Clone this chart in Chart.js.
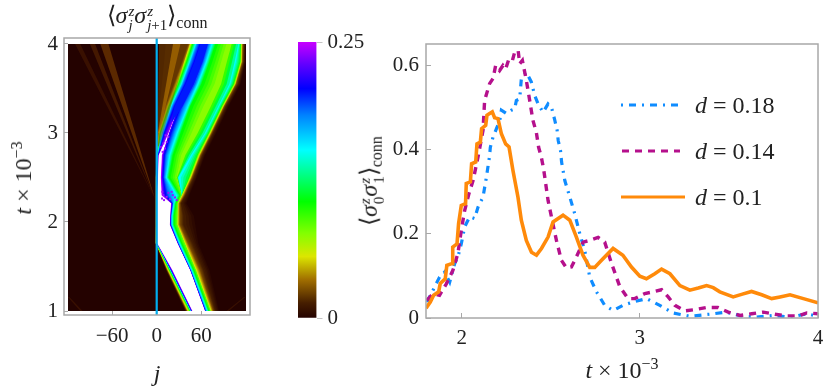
<!DOCTYPE html>
<html>
<head>
<meta charset="utf-8">
<script src="https://cdn.jsdelivr.net/npm/chart.js@4"></script>
<style>
html, body { margin: 0; padding: 0; background: #fff; width: 823px; height: 388px; overflow: hidden; }
canvas { position: absolute; }
#heatChart { filter: blur(0.5px); }
.txt { position: absolute; font-family: "Liberation Serif", serif; font-size: 24px; color: #222; white-space: nowrap; line-height: 1; }
.rot { transform: translate(-50%, -50%) rotate(-90deg); }
.mid { transform: translate(-50%, -50%); }
.ss { display: inline-flex; flex-direction: column; vertical-align: middle; font-size: 15px; line-height: 14px; margin-left: 1px; text-align: left; position: relative; top: 1px; }
.conn { font-size: 16px; position: relative; top: 5px; }
sup { font-size: 16px; line-height: 0; }
svg { position: absolute; }
</style>
</head>
<body>
<canvas id="heatChart" width="270" height="388" style="left:0;top:0"></canvas>
<canvas id="axisChart" width="270" height="388" style="left:0;top:0"></canvas>
<canvas id="barChart" width="90" height="388" style="left:280px;top:0"></canvas>
<canvas id="lineChart" width="463" height="388" style="left:360px;top:0"></canvas>

<div class="txt mid" style="left:157px;top:17px">⟨<i>σ</i><span class="ss"><i>z</i><i>j</i></span><i>σ</i><span class="ss"><i>z</i><span><i>j</i>+1</span></span>⟩<span class="conn">conn</span></div>
<div class="txt rot" style="left:23px;top:178px"><i>t</i> × 10<sup>−3</sup></div>
<div class="txt mid" style="left:157px;top:373px"><i>j</i></div>
<div class="txt rot" style="left:371px;top:181px">⟨<i>σ</i><span class="ss"><i>z</i><span>0</span></span><i>σ</i><span class="ss"><i>z</i><span>1</span></span>⟩<span class="conn">conn</span></div>
<div class="txt mid" style="left:622px;top:370px"><i>t</i> × 10<sup>−3</sup></div>

<svg width="70" height="110" style="left:618px;top:95px">
  <line x1="3" y1="10" x2="60" y2="10" stroke="#0f8cff" stroke-width="3" stroke-dasharray="2 6 7 6"/>
  <line x1="4" y1="56" x2="62" y2="56" stroke="#b5108c" stroke-width="3" stroke-dasharray="7 6"/>
  <line x1="3" y1="102" x2="67" y2="102" stroke="#ff8a0a" stroke-width="3"/>
</svg>
<div class="txt" style="left:695px;top:93px"><i>d</i> = 0.18</div>
<div class="txt" style="left:695px;top:139px"><i>d</i> = 0.14</div>
<div class="txt" style="left:695px;top:185px"><i>d</i> = 0.1</div>

<script>
// ---------- data ----------

// correlator curves, each with its own t samples
const tBlue = [1.805,1.83,1.876,1.904,1.933,1.961,1.979,1.998,2.017,2.045,2.073,2.092,2.12,2.139,2.157,2.161,2.176,2.214,2.223,2.251,2.279,2.298,2.307,2.326,2.335,2.363,2.391,2.41,2.429,2.457,2.485,2.504,2.523,2.536,2.542,2.555,2.561,2.579,2.607,2.635,2.663,2.691,2.719,2.757,2.803,2.85,2.906,2.962,3.037,3.112,3.187,3.281,3.393,3.483,3.579,3.655,3.749,3.843,3.937,4];
const vBlue = [.038,.058,.097,.109,.085,.129,.145,.176,.216,.24,.236,.263,.287,.334,.385,.405,.429,.469,.493,.485,.493,.496,.516,.52,.567,.583,.56,.528,.508,.488,.508,.5,.469,.445,.421,.397,.37,.326,.287,.247,.2,.16,.097,.062,.03,.018,.03,.038,.046,.03,.012,.004,.009,.014,.004,.002,.006,.002,.01,.004];

const tMagenta = [1.805,1.839,1.876,1.914,1.951,1.979,1.998,2.017,2.041,2.064,2.092,2.12,2.129,2.157,2.176,2.191,2.213,2.232,2.247,2.266,2.285,2.298,2.317,2.326,2.341,2.363,2.382,2.4,2.419,2.432,2.447,2.46,2.485,2.504,2.532,2.56,2.588,2.616,2.644,2.682,2.719,2.766,2.803,2.841,2.888,2.934,2.972,3.028,3.075,3.122,3.159,3.197,3.253,3.309,3.374,3.438,3.496,3.562,3.628,3.693,3.758,3.824,3.889,3.937,4];
const vMagenta = [.042,.058,.054,.081,.113,.153,.208,.255,.295,.326,.382,.445,.516,.556,.568,.599,.587,.599,.591,.615,.611,.631,.635,.603,.611,.564,.516,.469,.441,.405,.382,.354,.279,.24,.184,.137,.119,.121,.145,.18,.184,.191,.18,.13,.074,.046,.046,.058,.062,.067,.05,.03,.017,.02,.025,.025,.014,.006,.01,.014,.009,.005,.005,.012,.01];

const tOrange = [1.8,1.824,1.843,1.871,1.88,1.908,1.917,1.946,1.95,1.974,1.983,1.998,2.022,2.026,2.049,2.056,2.079,2.086,2.105,2.112,2.135,2.142,2.157,2.172,2.185,2.204,2.223,2.247,2.266,2.288,2.316,2.335,2.363,2.392,2.42,2.448,2.485,2.513,2.569,2.607,2.644,2.681,2.719,2.747,2.785,2.85,2.905,2.953,3,3.037,3.084,3.122,3.169,3.225,3.281,3.328,3.375,3.412,3.449,3.524,3.571,3.627,3.684,3.74,3.787,3.843,3.918,4];
const vOrange = [.023,.038,.054,.062,.082,.093,.125,.129,.168,.176,.224,.267,.271,.319,.323,.366,.37,.413,.417,.449,.457,.481,.485,.489,.475,.473,.437,.413,.406,.35,.287,.232,.184,.156,.149,.165,.192,.228,.244,.232,.192,.149,.12,.12,.137,.165,.149,.121,.099,.093,.105,.116,.105,.077,.066,.071,.077,.072,.062,.05,.056,.063,.055,.046,.05,.055,.046,.036];

const seriesNames = ['d = 0.1', 'd = 0.14', 'd = 0.18'];
const tTicksRight = [2, 3, 4];
const vTicksRight = [0, 0.2, 0.4, 0.6];

// heat map: j positions of the contour nodes, one list per time slice
const sliceT = [1, 1.46, 1.76, 1.97, 2.07, 2.21, 2.3, 2.5, 2.75, 3, 3.3, 3.55, 3.8, 4];
const cut100 = [38,40,42,44.5,46,46.5,47,47.5,48.5,65,65.7,66.5,68,70,73,73,73,73,73,76,79,84];
const cut146 = [12,13.5,15,17,18.5,19,19.5,20,21.5,45,45.5,46,47,49.5,53,53,53,53,53,58,63,71];
const cut176 = [-2.5,-2,-1.5,-.5,.3,.6,.9,1.2,1.5,28,28.7,29.3,30.5,33,38,38,38,38,38,42,48,56];
const cut197 = [-1.5,-1.2,-1,-.6,-.2,.1,.3,.5,.8,17.5,18.5,19.5,20.5,23,28,28,28,28,28,31,36,52];
const cut207 = [-1.5,-1.2,-1,-.6,-.2,.1,.3,.5,.8,18,19,19.7,20.5,23,28,28,28,28,28,31,36,50];
const cut221 = [-1.5,-1.2,-1,-.6,-.2,.1,.3,.5,.8,19,20.5,22,23,25.5,28.5,28.5,28.5,28.5,28.5,31,33,40];
const cut230 = [-1.5,-1.2,-1,-.6,-.2,.1,.3,.5,1,5.4,10,16,26,31,34,34,34,34,34,37,39,44];
const cut250 = [-1.5,-1.2,-1,-.6,0,.3,.8,1.3,2,5,7.5,10.3,12.6,16,27,27,29,43,45.5,47.5,50,54];
const cut275 = [-1,-.5,0,.5,1,1.5,2,2.5,3,6.3,9,12.6,17,21.6,33,36,46,54,57,59,61.5,65];
const cut300 = [.5,1.5,3,4.5,6.5,8.5,10,13,17,17,17,22.5,27,32,47,52,65,69.6,72,74,76,80];
const cut330 = [1,11.5,14.4,16.5,19,21,23.5,30,30,30,30,36,41.8,45,63,69.6,83,87,89.5,91,93.4,97];
const cut355 = [1.5,23,26,29,33,35,38,45,45,45,45,52,55,60,78,83,98,103,105.5,107,110,113];
const cut380 = [2,34,36.8,40,44,46,50,56,56,56,56,63,66.5,71,87,91,105,112,114,115.5,117.5,119.5];
const cut400 = [2,42,45,48,52,54.5,58,64,64,64,64,70,74,79,94,98,110,113,114.5,116,118.5,119.5];
const sliceCuts = [cut100,cut146,cut176,cut197,cut207,cut221,cut230,cut250,cut275,cut300,cut330,cut355,cut380,cut400];
// correlator level at each node, above 0.25 the map clips to white
const nodeLevels = [0,.02,.0557,.1054,.1521,.1837,.2078,.2304,.26,.26,.215,.1837,.1521,.1054,.075,.075,.1521,.1054,.0557,.025,.012,0];
const stepsPerBand = 4;

// solid blue ridge in the upper part of the map
const ridgeT = [3.12, 3.3, 3.55, 3.8, 4];
const ridgeLeft = [20, 24, 39, 51, 59];
const ridgeRight = [20, 35, 50, 62, 69];

// faint rays: j at the start and at the end of each ray
const rayT = [2.25, 4];
const rayLeftA = [-2, -76]; const rayRightA = [-2, -65];
const rayLeftB = [-2, -90]; const rayRightB = [-2, -83];
const rayLeftC = [-2, -110]; const rayRightC = [-2, -103];
const streakT = [3, 4];
const streakLeft = [1.5, 22]; const streakRight = [3.5, 32];
const hazeT = [2.85, 4];
const hazeLeft = [1, 3]; const hazeRight = [3, 44];
const cornerT = [1, 1.16];
const cornerLeftA = [-103, -120]; const cornerLeftB = [-100, -118];
const cornerRightA = [94, 118]; const cornerRightB = [97, 120];
const imageEdges = [-119.5, 120.3];
const imageT = [1, 4];

// purple specks along the ragged edge of the white region
const speckJ = [7.2,9.9,13.5,18,21.6,24.7,27,15.7,20.2,9,7.6,8,11.2,5.4,13.5,9,15.7,12];
const speckT = [2.264,2.246,2.283,2.257,2.302,2.276,2.246,2.328,2.339,2.302,2.339,2.788,2.826,2.844,2.9,2.882,2.956,2.975];

const jTicks = [-60, 0, 60];
const tTicksLeft = [1, 2, 3, 4];
const zeroLineJ = 0;

// colour bar
const barTicks = [0, 0.25];
const barStopValues = [0, .0136, .0346, .0557, .0768, .1054, .1521, .1837, .2078, .2304, .25];
const barStopColors = ['#240200','#461e00','#a06e00','#dce600','#82ff00','#00ff00','#00ffff','#0082ff','#0000ff','#6400ff','#c800ff'];

// ---------- shared stuff ----------
const frameGrey = '#a8a8a8';
const tickFont = { family: '"Liberation Serif", serif', size: 21 };
const minus = v => String(v).replace('-', '−');

const framePlugin = {
    id: 'frame',
    afterDraw(chart) {
        const a = chart.chartArea;
        const c = chart.ctx;
        c.save();
        c.strokeStyle = frameGrey;
        c.lineWidth = 1.5;
        c.strokeRect(a.left, a.top, a.right - a.left, a.bottom - a.top);
        c.restore();
    }
};

// stop the labels from eating into the plot area, the padding options place it
const noMargins = s => { s.paddingLeft = 0; s.paddingRight = 0; s.paddingTop = 0; s.paddingBottom = 0; };

const zip = (xs, ys) => xs.map((x, i) => ({ x: x, y: ys[i] }));
const fillEdge = (pts, color, target) => ({
    // top slice first, so pixel y grows along the edge
    data: pts.slice().sort((a, b) => b.y - a.y),
    borderWidth: 0, pointRadius: 0, tension: 0,
    fill: color ? target : false, backgroundColor: color || 'transparent'
});

// the map colour for a correlator level, same stops as the colour bar
function levelColor(level) {
    if (level > 0.25) return '#ffffff';
    let i = 0;
    while (i < barStopValues.length - 2 && level > barStopValues[i + 1]) i++;
    const f = (level - barStopValues[i]) / (barStopValues[i + 1] - barStopValues[i]);
    const rgb = [1, 3, 5].map(p => {
        const a = parseInt(barStopColors[i].substr(p, 2), 16);
        const b = parseInt(barStopColors[i + 1].substr(p, 2), 16);
        return Math.round(a + (b - a) * f);
    });
    return `rgb(${rgb.join(',')})`;
}

// ---------- heat map ----------
const heatSets = [
    {
        data: zip(speckJ, speckT), showLine: false, fill: false,
        pointStyle: 'rect', pointRadius: 1.4, borderWidth: 0, backgroundColor: '#9a10ff'
    },
    fillEdge(zip(ridgeLeft, ridgeT), '#0018ff', '+1'),
    fillEdge(zip(ridgeRight, ridgeT)),
    fillEdge(zip(streakLeft, streakT), 'rgba(205,135,0,0.5)', '+1'),
    fillEdge(zip(streakRight, streakT)),
    fillEdge(zip(hazeLeft, hazeT), 'rgba(125,75,0,0.5)', '+1'),
    fillEdge(zip(hazeRight, hazeT)),
    fillEdge(zip(rayLeftA, rayT), 'rgba(170,95,0,0.42)', '+1'),
    fillEdge(zip(rayRightA, rayT)),
    fillEdge(zip(rayLeftB, rayT), 'rgba(170,95,0,0.24)', '+1'),
    fillEdge(zip(rayRightB, rayT)),
    fillEdge(zip(rayLeftC, rayT), 'rgba(170,95,0,0.16)', '+1'),
    fillEdge(zip(rayRightC, rayT)),
    fillEdge(zip(cornerLeftA, cornerT), 'rgba(170,95,0,0.16)', '+1'),
    fillEdge(zip(cornerLeftB, cornerT)),
    fillEdge(zip(cornerRightA, cornerT), 'rgba(170,95,0,0.16)', '+1'),
    fillEdge(zip(cornerRightB, cornerT))
];

// every step fills from its edge out to the image's right edge, right-hand steps
// are painted later (lower index), so no seams show between neighbours
const lastNode = nodeLevels.length - 1;
const farEdgeIndex = heatSets.length;
heatSets.push(fillEdge(sliceT.map(t => ({ x: imageEdges[1], y: t }))));
heatSets.push(fillEdge(sliceT.map((t, r) => ({ x: sliceCuts[r][lastNode], y: t })), levelColor(0), farEdgeIndex));
for (let c = lastNode - 1; c >= 0; c--) {
    for (let k = stepsPerBand - 1; k >= 0; k--) {
        const f = k / stepsPerBand;
        const level = nodeLevels[c] + (nodeLevels[c + 1] - nodeLevels[c]) * f;
        const pts = sliceT.map((t, r) => ({ x: sliceCuts[r][c] + (sliceCuts[r][c + 1] - sliceCuts[r][c]) * f, y: t }));
        heatSets.push(fillEdge(pts, levelColor(level), farEdgeIndex));
    }
}
heatSets.push(fillEdge(imageT.map(t => ({ x: imageEdges[0], y: t })), levelColor(0), '+1'));
heatSets.push(fillEdge(imageT.map(t => ({ x: imageEdges[1], y: t }))));

// ranges chosen so the image's borders fall on whole pixels
const jMin = -124.9, jMax = 125.7, tMin = 1 - 4 / 89, tMax = 4 + 6 / 89;

new Chart(document.getElementById('heatChart'), {
    type: 'line',
    data: { datasets: heatSets },
    options: {
        responsive: false,
        animation: false,
        indexAxis: 'y',
        layout: { padding: { left: 64, top: 38, right: 20, bottom: 73 } },
        plugins: { legend: { display: false }, tooltip: { enabled: false } },
        scales: {
            x: { type: 'linear', min: jMin, max: jMax, display: false },
            y: { type: 'linear', min: tMin, max: tMax, display: false }
        }
    }
});

// axes and the j = 0 line go on a clear chart above the softened map
new Chart(document.getElementById('axisChart'), {
    type: 'line',
    data: {
        datasets: [{
            data: [{ x: zeroLineJ, y: tMin }, { x: zeroLineJ, y: tMax }],
            borderColor: '#00aeef', borderWidth: 2.2, pointRadius: 0
        }]
    },
    options: {
        responsive: false,
        animation: false,
        indexAxis: 'y',
        layout: { padding: { top: 38, right: 20 } },
        plugins: { legend: { display: false }, tooltip: { enabled: false } },
        scales: {
            x: {
                type: 'linear', min: jMin, max: jMax,
                afterBuildTicks: s => { s.ticks = jTicks.map(v => ({ value: v })); },
                afterFit: s => { s.height = 73; noMargins(s); },
                grid: { drawOnChartArea: false, tickLength: -4, color: frameGrey },
                border: { display: false },
                ticks: { font: tickFont, color: '#222', padding: 13, maxRotation: 0, callback: minus }
            },
            y: {
                type: 'linear', min: tMin, max: tMax,
                afterBuildTicks: s => { s.ticks = tTicksLeft.map(v => ({ value: v })); },
                afterFit: s => { s.width = 64; noMargins(s); },
                grid: { drawOnChartArea: false, tickLength: -4, color: frameGrey },
                border: { display: false },
                ticks: { font: tickFont, color: '#222', padding: 10 }
            }
        }
    },
    plugins: [framePlugin]
});

// ---------- colour bar ----------
new Chart(document.getElementById('barChart'), {
    type: 'bar',
    data: {
        labels: ['conn'],
        datasets: [{
            data: [barTicks],
            barPercentage: 1,
            categoryPercentage: 1,
            backgroundColor(ctx) {
                const a = ctx.chart.chartArea;
                if (!a) return '#000';
                const g = ctx.chart.ctx.createLinearGradient(0, a.bottom, 0, a.top);
                barStopValues.forEach((v, i) => g.addColorStop(v / 0.25, barStopColors[i]));
                return g;
            }
        }]
    },
    options: {
        responsive: false,
        animation: false,
        layout: { padding: { left: 18, top: 42, bottom: 70 } },
        plugins: { legend: { display: false }, tooltip: { enabled: false } },
        scales: {
            x: { display: false },
            y: {
                position: 'right', min: 0, max: 0.25,
                afterBuildTicks: s => { s.ticks = barTicks.map(v => ({ value: v })); },
                afterFit: s => { s.width = 53.5; noMargins(s); },
                grid: { drawOnChartArea: false, tickLength: 6, color: '#c4c4c4' },
                border: { display: false },
                ticks: { font: tickFont, color: '#222', padding: 5, callback: v => String(v) }
            }
        }
    }
});

// ---------- correlator curves ----------
new Chart(document.getElementById('lineChart'), {
    type: 'line',
    data: {
        datasets: [
            { label: seriesNames[0], data: zip(tOrange, vOrange), borderColor: '#ff8a0a', borderWidth: 3.6, pointRadius: 0, tension: 0 },
            { label: seriesNames[1], data: zip(tMagenta, vMagenta), borderColor: '#b5108c', borderWidth: 3.4, pointRadius: 0, tension: 0, borderDash: [7, 6] },
            { label: seriesNames[2], data: zip(tBlue, vBlue), borderColor: '#0f8cff', borderWidth: 3.2, pointRadius: 0, tension: 0, borderDash: [7, 6, 2, 6] }
        ]
    },
    options: {
        responsive: false,
        animation: false,
        layout: { padding: { top: 44, right: 5 } },
        plugins: { legend: { display: false }, tooltip: { enabled: false } },
        scales: {
            x: {
                type: 'linear', min: 1.8, max: 4,
                afterBuildTicks: s => { s.ticks = tTicksRight.map(v => ({ value: v })); },
                afterFit: s => { s.height = 70; noMargins(s); },
                grid: { drawOnChartArea: false, tickLength: -5, color: frameGrey },
                border: { display: false },
                ticks: { font: tickFont, color: '#222', padding: 13, maxRotation: 0 }
            },
            y: {
                type: 'linear', min: 0, max: 0.65,
                afterBuildTicks: s => { s.ticks = vTicksRight.map(v => ({ value: v })); },
                afterFit: s => { s.width = 66; noMargins(s); },
                grid: { drawOnChartArea: false, tickLength: -5, color: frameGrey },
                border: { display: false },
                ticks: { font: tickFont, color: '#222', padding: 12, callback: v => String(v) }
            }
        }
    },
    plugins: [framePlugin]
});
</script>
</body>
</html>
